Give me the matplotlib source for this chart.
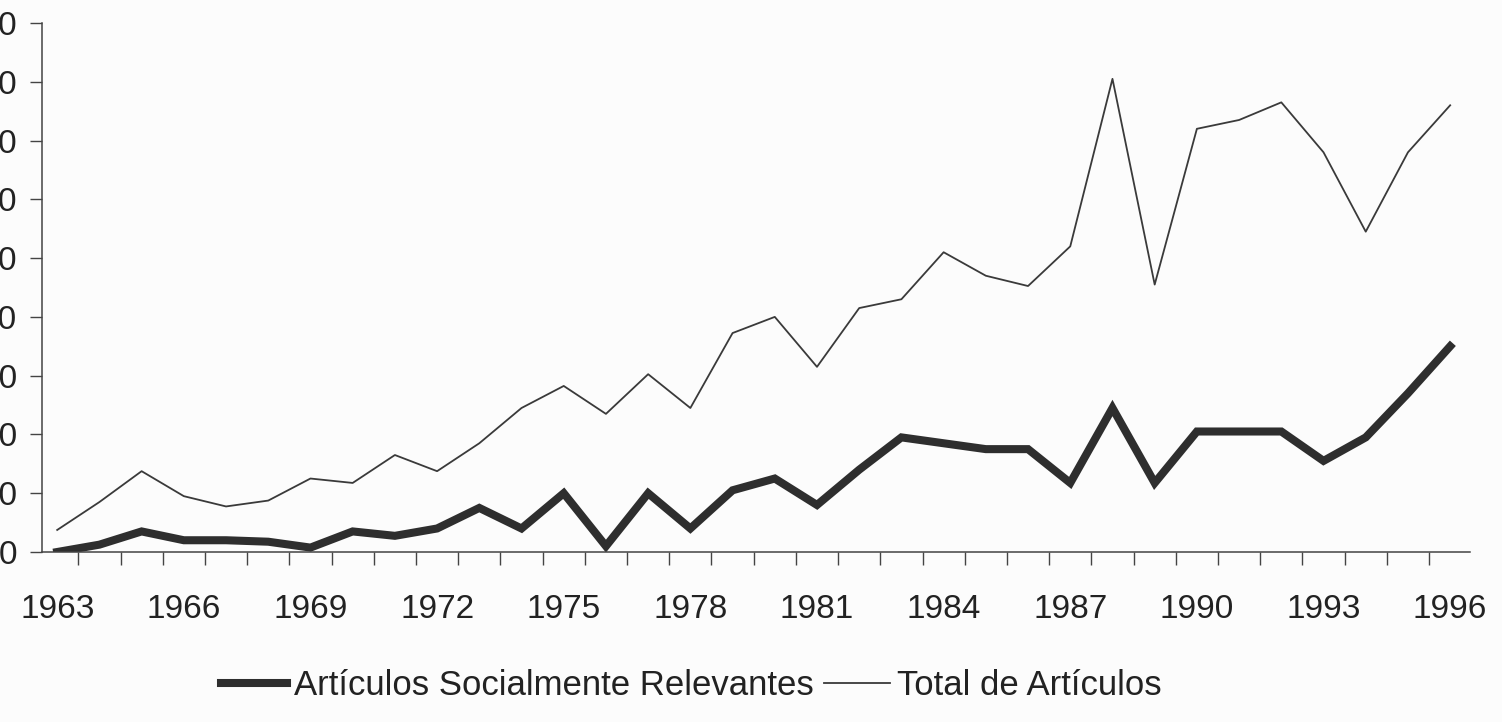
import matplotlib.pyplot as plt
from matplotlib.ticker import FixedLocator

# Values
years = list(range(1963, 1997))
relevantes = [0, 2.5, 7, 4, 4, 3.5, 1.5, 7, 5.5, 8, 15, 8, 20, 2, 20, 8,
              21, 25, 16, 28, 39, 37, 35, 35, 23.5, 49, 23.5, 41, 41, 41,
              31, 39, 54, 70]
total = [7.5, 17, 27.5, 19, 15.5, 17.5, 25, 23.5, 33, 27.5, 37, 49, 56.5,
         47, 60.5, 49, 74.5, 80, 63, 83, 86, 102, 94, 90.5, 104, 161, 91,
         144, 147, 153, 136, 109, 136, 152]
y_ticks = list(range(0, 181, 20))
x_labels = list(range(1963, 1997, 3))

plt.rcParams['font.family'] = ['Liberation Sans', 'DejaVu Sans']

fig = plt.figure(figsize=(15.02, 7.22), dpi=100, facecolor='#fcfcfc')
ax = fig.add_axes([42 / 1502, 1 - 552 / 722, (1470 - 42) / 1502, (552 - 23) / 722])
ax.set_facecolor('#fcfcfc')

ax.plot(years, relevantes, color='#2e2e2e', linewidth=5.8,
        solid_joinstyle='miter', label='Artículos Socialmente Relevantes')
ax.plot(years, total, color='#3a3a3a', linewidth=1.3,
        label='Total de Artículos')

ax.set_xlim(1962.64, 1996.47)
ax.set_ylim(0, 180)

# category-style axis: ticks between years, labels every third year
ax.xaxis.set_major_locator(FixedLocator(x_labels))
ax.set_xticklabels([str(y) for y in x_labels])
ax.xaxis.set_minor_locator(FixedLocator([y + 0.5 for y in years[:-1]]))
ax.tick_params(axis='x', which='major', length=0, pad=30, labelsize=24,
               labelcolor='#222222')
ax.tick_params(axis='x', which='minor', length=9, width=1, color='#444444',
               direction='out')

# y labels run off the left edge of the scan, only their last digit shows
ax.set_yticks(y_ticks)
ax.tick_params(axis='y', length=9, width=1, color='#444444', pad=9,
               labelsize=24, labelcolor='#222222')

for side in ['top', 'right']:
    ax.spines[side].set_visible(False)
for side in ['left', 'bottom']:
    ax.spines[side].set_color('#444444')
    ax.spines[side].set_linewidth(1.1)

fig.legend(loc='center', bbox_to_anchor=(0.46, 0.05), ncol=2, frameon=False,
           fontsize=25, handlelength=1.9, handletextpad=0.2,
           columnspacing=0.3, labelcolor='#222222')

fig.savefig('out.png', dpi=100, facecolor=fig.get_facecolor())
